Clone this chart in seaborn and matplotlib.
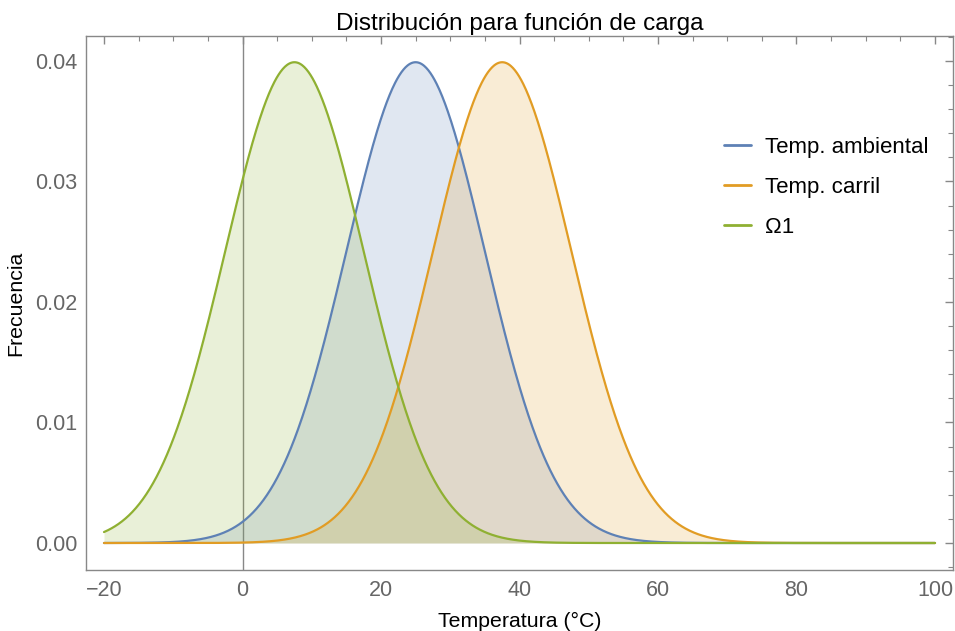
import numpy as np
import pandas as pd
import matplotlib
matplotlib.use("Agg")
import matplotlib.pyplot as plt
from matplotlib.ticker import MultipleLocator
import seaborn as sns

# series: normal distributions (peak 0.0399 -> sd 10)
series_names = ["Temp. ambiental", "Temp. carril", "\u03a91"]
series_means = [25.0, 37.5, 7.5]
series_sds = [10.0, 10.0, 10.0]
series_colors = ["#5E81B5", "#E19C24", "#8FB032"]
x_range = [-20, 100]

sns.set_style("white")
plt.rcParams["font.family"] = ["Liberation Sans", "DejaVu Sans"]

x = np.linspace(x_range[0], x_range[1], 1200)
rows = []
for name, mu, sd in zip(series_names, series_means, series_sds):
    y = np.exp(-0.5 * ((x - mu) / sd) ** 2) / (sd * np.sqrt(2 * np.pi))
    rows.append(pd.DataFrame({"temp": x, "freq": y, "serie": name}))
df = pd.concat(rows, ignore_index=True)

fig = plt.figure(figsize=(9.55, 6.31), dpi=100)
ax = fig.add_axes([86 / 955, 1 - 570 / 631, (953 - 86) / 955, (570 - 36) / 631])

ax.axvline(0, color="#888888", lw=1.0, zorder=1)

for name, col in zip(series_names, series_colors):
    d = df[df.serie == name]
    ax.fill_between(d.temp, 0, d.freq, color=col, alpha=0.19, lw=0, zorder=2)

sns.lineplot(data=df, x="temp", y="freq", hue="serie", palette=series_colors,
             hue_order=series_names, lw=1.6, ax=ax, zorder=3)

ax.set_xlim(-22.6, 102.6)
ax.set_ylim(-0.00224, 0.04207)
ax.xaxis.set_major_locator(MultipleLocator(20))
ax.xaxis.set_minor_locator(MultipleLocator(5))
ax.yaxis.set_major_locator(MultipleLocator(0.01))
ax.yaxis.set_minor_locator(MultipleLocator(0.002))
ax.yaxis.set_major_formatter(matplotlib.ticker.FormatStrFormatter("%.2f"))
ax.tick_params(which="both", direction="in", top=True, right=True,
               color="#888888", labelcolor="#666666", labelsize=15.5)
ax.tick_params(which="major", length=6, width=1)
ax.tick_params(which="minor", length=3.5, width=0.8)
ax.tick_params(axis="x", pad=7)
ax.tick_params(axis="y", pad=6)
for s in ax.spines.values():
    s.set_color("#888888")
    s.set_linewidth(1.0)

ax.set_xlabel("Temperatura (\u00b0C)", fontsize=15.3, color="black", labelpad=8)
ax.set_ylabel("Frecuencia", fontsize=15.3, color="black", labelpad=7)
ax.set_title("Distribuci\u00f3n para funci\u00f3n de carga", fontsize=17.5, color="black", pad=4)

leg = ax.legend(loc="upper left", bbox_to_anchor=(0.713, 0.848), frameon=False,
                fontsize=16, handlelength=1.2, handletextpad=0.63, labelspacing=0.85)
for line in leg.get_lines():
    line.set_linewidth(2)
for t in leg.get_texts():
    t.set_color("black")

fig.savefig("out.png", dpi=100)
